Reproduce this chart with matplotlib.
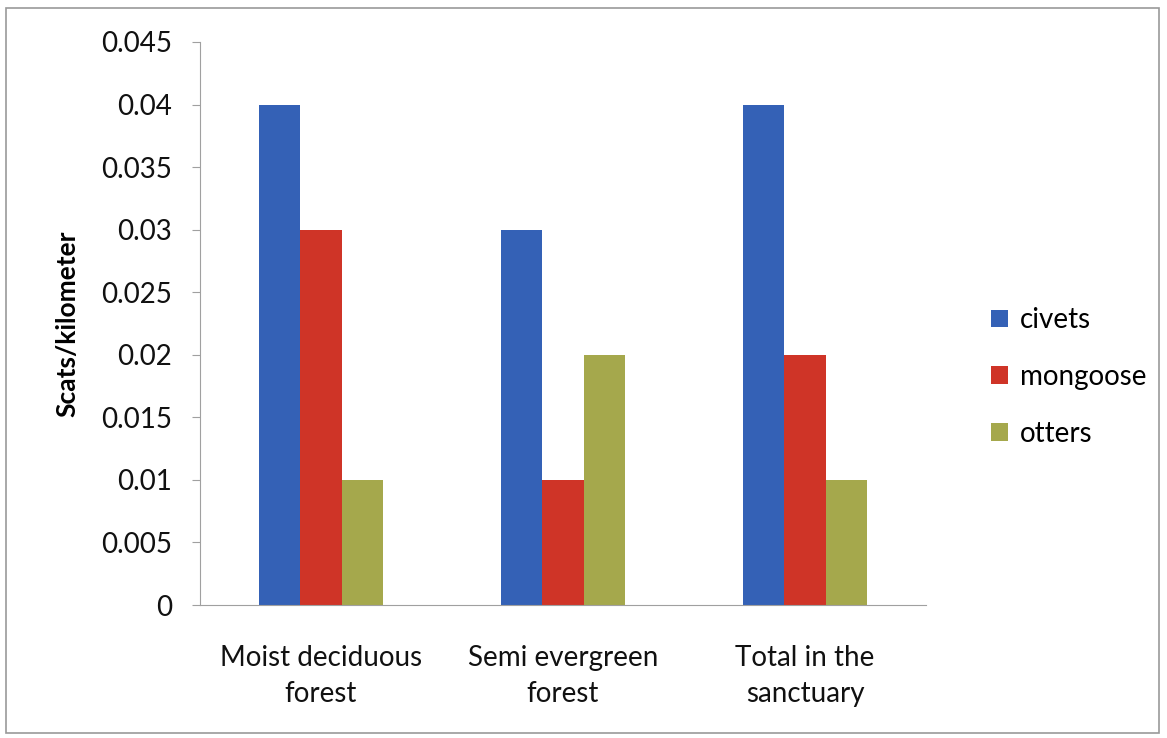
import matplotlib.pyplot as plt
from matplotlib.patches import Rectangle
import numpy as np

plt.rcParams['font.family'] = ['Lato', 'DejaVu Sans']

habitats = ["Moist deciduous\nforest", "Semi evergreen\nforest", "Total in the\nsanctuary"]
civets = [0.04, 0.03, 0.04]
mongoose = [0.03, 0.01, 0.02]
otters = [0.01, 0.02, 0.01]

series = [("civets", civets, "#3461B6"),
          ("mongoose", mongoose, "#CF3427"),
          ("otters", otters, "#A5A84C")]

fig = plt.figure(figsize=(11.67, 7.38), dpi=100)
ax = fig.add_axes([0.1714, 0.1802, 0.6221, 0.7629])

x = np.arange(len(habitats))
w = 0.17
for i, (name, vals, col) in enumerate(series):
    ax.bar(x + (i - 1) * w, vals, w, color=col, label=name)

ax.set_xlim(-0.5, len(habitats) - 0.5)
ax.set_ylim(0, 0.045)
yt = np.arange(0, 0.0451, 0.005)
ax.set_yticks(yt)
ax.set_yticklabels(["0", "0.005", "0.01", "0.015", "0.02", "0.025", "0.03", "0.035", "0.04", "0.045"])
ax.set_xticks(x)
ax.set_xticklabels(habitats, linespacing=1.45)

ax.tick_params(axis='y', labelsize=20, length=6, color="#a0a0a0", pad=14, labelcolor="#111111")
ax.tick_params(axis='x', labelsize=20, length=0, pad=29, labelcolor="#111111")

for s in ["top", "right"]:
    ax.spines[s].set_visible(False)
ax.spines["left"].set_color("#a0a0a0")
ax.spines["bottom"].set_color("#a0a0a0")

ax.set_ylabel("Scats/kilometer", fontsize=19, fontweight="bold", labelpad=16)

ax.legend(loc="center left", bbox_to_anchor=(1.055, 0.405), frameon=False,
          fontsize=20, handlelength=0.6, handleheight=0.6, labelspacing=1.1,
          handletextpad=0.45)

# outer frame
fig.patches.append(Rectangle((0.005, 0.007), 0.988, 0.982, transform=fig.transFigure,
                             fill=False, edgecolor="#999999", linewidth=1.2))

fig.savefig("out.png", dpi=100)
